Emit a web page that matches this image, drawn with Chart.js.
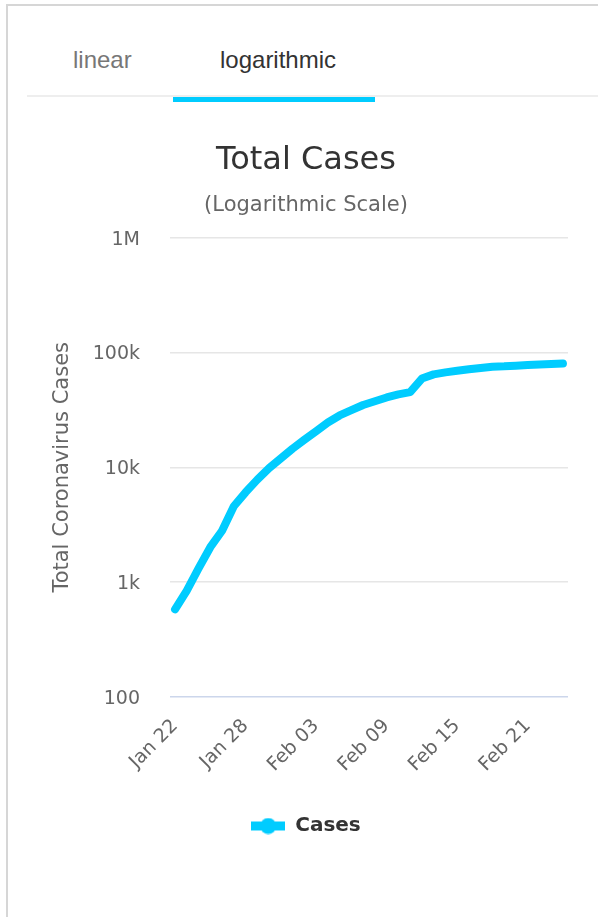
<!DOCTYPE html>
<html>
<head>
<meta charset="utf-8">
<script src="https://cdn.jsdelivr.net/npm/chart.js@4.4.0/dist/chart.umd.min.js"></script>
<style>
  html, body { margin: 0; padding: 0; background: #fff; overflow: hidden; }
  body { width: 598px; height: 917px; position: relative; }
  .card { position: absolute; left: 6px; top: 4px; width: 620px; height: 940px;
          border-left: 2px solid #d6d6d6; border-top: 2px solid #d6d6d6; }
  .tab { position: absolute; top: 44px; line-height: 32px; font-size: 24px;
         font-family: "Liberation Sans", Arial, sans-serif; white-space: nowrap; }
  .sep { position: absolute; left: 27px; top: 95px; width: 580px; height: 2px; background: #eeeeee; }
  .active { position: absolute; left: 173px; top: 97px; width: 202px; height: 5px; background: #00ccff; }
  #wrap { position: absolute; left: 10px; top: 110px; width: 592px; height: 790px; }
</style>
</head>
<body>
<div class="card"></div>
<div class="tab" style="left:73px;color:#777">linear</div>
<div class="tab" style="left:220px;color:#333">logarithmic</div>
<div class="sep"></div>
<div class="active"></div>
<div id="wrap"><canvas id="casesChart"></canvas></div>

<script>
// Total cases, Jan 22 - Feb 24
const dates = [
  "Jan 22", "Jan 23", "Jan 24", "Jan 25", "Jan 26", "Jan 27", "Jan 28", "Jan 29",
  "Jan 30", "Jan 31", "Feb 01", "Feb 02", "Feb 03", "Feb 04", "Feb 05", "Feb 06",
  "Feb 07", "Feb 08", "Feb 09", "Feb 10", "Feb 11", "Feb 12", "Feb 13", "Feb 14",
  "Feb 15", "Feb 16", "Feb 17", "Feb 18", "Feb 19", "Feb 20", "Feb 21", "Feb 22",
  "Feb 23", "Feb 24"
];
const totalCases = [
  580, 845, 1317, 2015, 2800, 4581, 6058, 7813,
  9823, 11950, 14553, 17391, 20630, 24545, 28266, 31439,
  34876, 37552, 40553, 43099, 45134, 59287, 64438, 67100,
  69197, 71329, 73332, 75184, 75700, 76677, 77673, 78651,
  79205, 80087
];
const xTickLabels = ["Jan 22", "Jan 28", "Feb 03", "Feb 09", "Feb 15", "Feb 21"];
const yTickValues = [100, 1000, 10000, 100000, 1000000];
const yTickLabels = ["100", "1k", "10k", "100k", "1M"];

const lineColor = "#00ccff";
const fontFamily = '"DejaVu Sans", Verdana, sans-serif';

// legend symbol: line segment with a dot in the middle
const legendIcon = document.createElement("canvas");
legendIcon.width = 34;
legendIcon.height = 17;
const ic = legendIcon.getContext("2d");
ic.fillStyle = lineColor;
ic.fillRect(0, 4, 34, 9);
ic.beginPath();
ic.arc(17, 8.5, 8, 0, Math.PI * 2);
ic.fill();

const ctx = document.getElementById("casesChart").getContext("2d");
const casesChart = new Chart(ctx, {
  type: "line",
  data: {
    datasets: [
      {
        label: "Cases",
        data: totalCases.map((v, i) => ({ x: i, y: v })),
        borderColor: lineColor,
        backgroundColor: lineColor,
        borderWidth: 8,
        borderCapStyle: "round",
        borderJoinStyle: "round",
        pointRadius: 0,
        pointHoverRadius: 0,
        tension: 0,
        fill: false,
      },
    ],
  },
  options: {
    responsive: true,
    maintainAspectRatio: false,
    animation: false,
    layout: { padding: { left: 0, right: 0, top: 0, bottom: 54 } },
    plugins: {
      tooltip: { enabled: false },
      title: {
        display: true,
        text: "Total Cases",
        color: "#333333",
        font: { family: fontFamily, size: 32, weight: "normal" },
        padding: { top: 31, bottom: 14 },
      },
      subtitle: {
        display: true,
        text: "(Logarithmic Scale)",
        color: "#666666",
        font: { family: fontFamily, size: 21 },
        padding: { top: 0, bottom: 19 },
      },
      legend: {
        position: "bottom",
        labels: {
          usePointStyle: true,
          pointStyleWidth: 34,
          padding: 10,
          color: "#333333",
          font: { family: fontFamily, size: 20, weight: "bold" },
          generateLabels: (chart) =>
            chart.data.datasets.map((ds, i) => ({
              text: ds.label,
              pointStyle: legendIcon,
              fillStyle: "transparent",
              strokeStyle: "transparent",
              lineWidth: 0,
              fontColor: "#333333",
              hidden: false,
              datasetIndex: i,
            })),
        },
      },
    },
    scales: {
      x: {
        type: "linear",
        min: -0.43,
        max: 33.43,
        grid: { display: false },
        border: { display: false },
        afterBuildTicks: (scale) => {
          scale.ticks = xTickLabels.map((t) => ({ value: dates.indexOf(t) }));
        },
        afterFit: (scale) => {
          scale.height = 109;
        },
        ticks: {
          autoSkip: false,
          minRotation: 45,
          maxRotation: 45,
          padding: 10,
          color: "#666666",
          font: { family: fontFamily, size: 19 },
          callback: (v) => dates[v],
        },
      },
      y: {
        type: "logarithmic",
        min: 100,
        max: 1000000,
        border: { display: false },
        grid: {
          drawTicks: false,
          lineWidth: 1.5,
          color: (c) => (c.tick && c.tick.value === 100 ? "#ccd6eb" : "#e6e6e6"),
        },
        afterBuildTicks: (scale) => {
          scale.ticks = yTickValues.map((v) => ({ value: v }));
        },
        afterFit: (scale) => {
          scale.width = 160;
        },
        ticks: {
          padding: 30,
          labelOffset: 2,
          color: "#666666",
          font: { family: fontFamily, size: 19 },
          callback: (v) => yTickLabels[yTickValues.indexOf(v)],
        },
        title: {
          display: true,
          text: "Total Coronavirus Cases",
          color: "#666666",
          font: { family: fontFamily, size: 21 },
          padding: { top: 40, bottom: 0 },
        },
      },
      // empty right-hand axis, only reserves the right margin of the plot
      yRight: {
        type: "linear",
        position: "right",
        display: true,
        grid: { display: false },
        border: { display: false },
        ticks: { display: false },
        afterFit: (scale) => {
          scale.width = 34;
        },
      },
    },
  },
});
</script>
</body>
</html>
